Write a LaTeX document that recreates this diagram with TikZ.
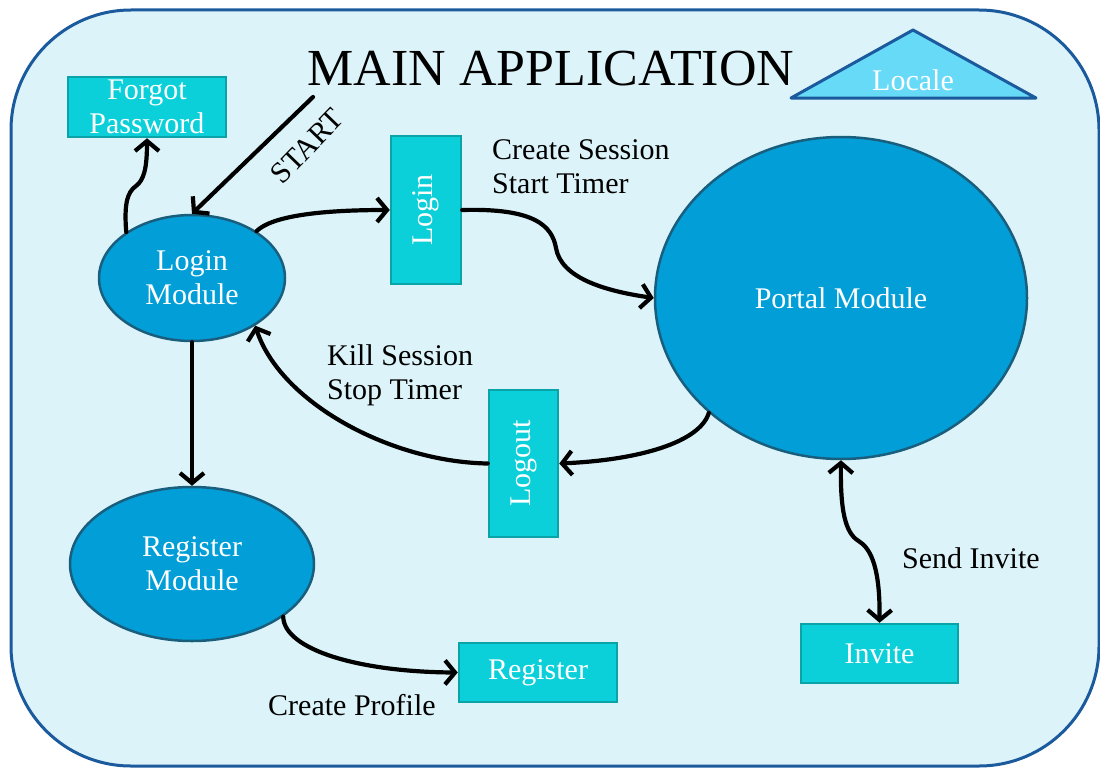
\documentclass[tikz,border=0pt]{standalone}
\usepackage{fontspec}
\setmainfont{Liberation Serif}
\usetikzlibrary{shapes.geometric,arrows.meta}
\definecolor{bgfill}{HTML}{DCF4F9}
\definecolor{bgline}{HTML}{1B5A9C}
\definecolor{ellfill}{HTML}{019ED7}
\definecolor{ellline}{HTML}{1A5E7E}
\definecolor{boxfill}{HTML}{0BD0D9}
\definecolor{boxline}{HTML}{0AA3A8}
\definecolor{trifill}{HTML}{67DAF8}
\newcommand\dgfont{\fontsize{30}{34}\selectfont}
\newcommand\dgtitle{\fontsize{52}{60}\selectfont}
\tikzset{
  ell/.style={ellipse, draw=ellline, fill=ellfill, line width=2.5pt, text=white, inner sep=0pt, align=center, font=\dgfont},
  boxn/.style={rectangle, draw=boxline, fill=boxfill, line width=2.5pt, text=white, inner sep=0pt, align=center, font=\dgfont},
  lbl/.style={text=black, inner sep=0pt, align=left, font=\dgfont},
  conn/.style={line width=4.2pt, line cap=round, line join=round, -{Straight Barb[length=10pt,width=24pt]}},
  dconn/.style={line width=4.2pt, line cap=round, line join=round, {Straight Barb[length=10pt,width=24pt]}-{Straight Barb[length=10pt,width=24pt]}},
}
\begin{document}
\begin{tikzpicture}[x=1pt,y=-1pt]
\useasboundingbox (0,0) rectangle (1100,768);
% frame
\draw[fill=bgfill, draw=bgline, line width=3pt, rounded corners=120pt] (11,10) rectangle (1099,766);
% title
\node[font=\dgtitle, inner sep=0pt, anchor=base] (title) at (551,85) {MAIN APPLICATION};
% locale
\draw[fill=trifill, draw=bgline, line width=3pt, line join=round] (791,98) -- (913,30) -- (1036,98) -- cycle;
\node[font=\dgfont, text=white, inner sep=0pt, anchor=base] (loc) at (913,90) {Locale};
% nodes
\node[boxn, minimum width=158pt, minimum height=60pt] (fp) at (147,107) {Forgot\\Password};
\node[ell, minimum width=186pt, minimum height=126pt] (lm) at (192,278) {Login\\Module};
\node[ell, minimum width=244pt, minimum height=154pt] (rm) at (192,564) {Register\\Module};
\node[ell, minimum width=372pt, minimum height=322pt] (pm) at (841,298) {Portal Module};
\node[boxn, minimum width=70pt, minimum height=148pt] (lb) at (426,210) {\rotatebox{90}{Login}};
\node[boxn, minimum width=69pt, minimum height=147pt] (lo) at (523.5,463.5) {\rotatebox{90}{Logout}};
\node[boxn, minimum width=158pt, minimum height=59pt] (rb) at (538,672.5) {Register};
\node[boxn, minimum width=157pt, minimum height=59pt] (inv) at (879.5,653.5) {Invite};
% labels
\node[lbl, rotate=46] (st) at (307,146) {START};
\node[lbl, anchor=north west] (cs) at (492,139) {Create Session\\Start Timer};
\node[lbl, anchor=north west] (ks) at (327,344) {Kill Session\\Stop Timer};
\node[lbl, anchor=base west] (si) at (902,568) {Send Invite};
\node[lbl, anchor=base west] (cp) at (268,715) {Create Profile};
% connectors
\coordinate (s0) at (313,97);
\draw[conn] (s0) -- (lm.north);
\draw[conn] (lm.145) .. controls (124,205) and (127,192) .. (136,186) .. controls (144,180) and (147,168) .. (fp.south);
\draw[conn] (lm.36) .. controls (272,216) and (320,210) .. (lb.west);
\draw[conn] (lb.east) .. controls (535,208) and (552,226) .. (556,248) .. controls (561,278) and (605,291) .. (pm.west);
\draw[conn] (pm.221) .. controls (700,442) and (640,460) .. (lo.east);
\draw[conn] (lo.west) .. controls (390,462) and (280,402) .. (lm.323);
\draw[conn] (lm.south) -- (rm.north);
\draw[conn] (rm.330) .. controls (284,650) and (360,672) .. (rb.west);
\draw[dconn] (pm.south) .. controls (840,520) and (848,535) .. (860,542) .. controls (875,552) and (880,580) .. (inv.north);
\end{tikzpicture}
\end{document}
